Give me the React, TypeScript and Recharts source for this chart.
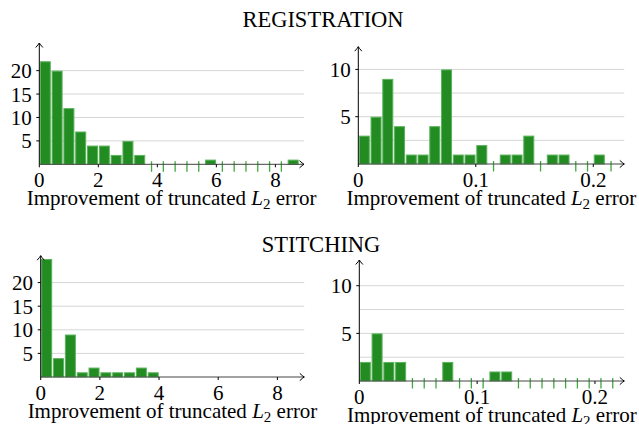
import React from 'react';
import { BarChart, Bar, XAxis, YAxis, CartesianGrid } from 'recharts';

// ---- data (histogram counts per bin) ----
const registrationL2Counts = [22, 20, 12, 7, 4, 4, 2, 5, 2, 0, 0, 0, 0, 0, 1, 0, 0, 0, 0, 0, 0, 1];
const registrationTruncCounts = [3, 5, 9, 4, 1, 1, 4, 10, 1, 1, 2, 0, 1, 1, 3, 0, 1, 1, 0, 0, 1, 0];
const stitchingL2Counts = [25, 4, 9, 1, 2, 1, 1, 1, 2, 1];
const stitchingTruncCounts = [2, 5, 2, 2, 0, 0, 0, 2, 0, 0, 0, 1, 1, 0, 0, 0, 0, 0, 0, 0, 0, 0];

const l2BinWidth = 0.4;
const truncBinWidth = 0.01;

const l2XTicks = [0, 2, 4, 6, 8];
const l2YTicks = [5, 10, 15, 20];
const truncXTicks = [0, 0.1, 0.2];
const truncYTicks = [5, 10];
const truncGridValues = [2.5, 5, 7.5, 10];

const sectionTitles = ['REGISTRATION', 'STITCHING'];
const xLabelText = 'Improvement of truncated ';
const xLabelVar = 'L';
const xLabelSub = '2';
const xLabelTail = ' error';

const FONT = "'Liberation Serif', 'Times New Roman', serif";

type Panel = {
  counts: number[];
  binWidth: number;
  xTicks: number[];
  yTicks: number[];
  gridValues: number[];
  xTop: number;
  yTop: number;
  box: [number, number, number, number];
  plot: [number, number, number, number];
};

const panels: Panel[] = [
  { counts: registrationL2Counts, binWidth: l2BinWidth, xTicks: l2XTicks, yTicks: l2YTicks, gridValues: l2YTicks,
    xTop: 8.97, yTop: 25.9, box: [0, 30, 320, 185], plot: [39.3, 43, 304, 164.3] },
  { counts: registrationTruncCounts, binWidth: truncBinWidth, xTicks: truncXTicks, yTicks: truncYTicks, gridValues: truncGridValues,
    xTop: 0.2264, yTop: 12.4, box: [320, 30, 319, 185], plot: [358.3, 46.7, 624.3, 164] },
  { counts: stitchingL2Counts, binWidth: l2BinWidth, xTicks: l2XTicks, yTicks: l2YTicks, gridValues: l2YTicks,
    xTop: 8.91, yTop: 25.7, box: [0, 245, 320, 179], plot: [40.7, 255.7, 304.3, 377] },
  { counts: stitchingTruncCounts, binWidth: truncBinWidth, xTicks: truncXTicks, yTicks: truncYTicks, gridValues: truncGridValues,
    xTop: 0.2249, yTop: 12.7, box: [320, 245, 319, 179], plot: [359.3, 260, 624.3, 381] },
];

function BinShape(props: any) {
  const { x, y, width, height, payload } = props;
  const count = payload ? payload.count : props.value;
  if (!count) {
    return (
      <line x1={x + width / 2} x2={x + width / 2} y1={y - 3} y2={y + 7.5} stroke="#3fa83f" strokeWidth={1.3} />
    );
  }
  return (
    <rect x={x + 1} y={y + 0.5} width={Math.max(0, width - 2)} height={Math.max(0, height - 0.5)}
      fill="#228b22" stroke="#5cb35c" strokeWidth={1} />
  );
}

function AxisLabel(props: any) {
  const vb = props.viewBox || {};
  const cx = vb.x + vb.width / 2;
  const by = vb.y + 40.5;
  return (
    <text x={cx} y={by} textAnchor="middle" fontFamily={FONT} fontSize={21} fill="#000">
      {xLabelText}
      <tspan fontStyle="italic">{xLabelVar}</tspan>
      <tspan fontSize={15} dy={4}>{xLabelSub}</tspan>
      <tspan dy={-4}>{xLabelTail}</tspan>
    </text>
  );
}

function Histogram({ p }: { p: Panel }) {
  const [bx, by, bw, bh] = p.box;
  const [pl, pt, pr, pb] = p.plot;
  const data = p.counts.map((count, i) => ({ x: (i + 0.5) * p.binWidth, count }));
  const tickStyle = { fill: '#000', fontSize: 21, fontFamily: FONT };
  return (
    <div style={{ position: 'absolute', left: bx, top: by, width: bw, height: bh }}>
      <BarChart
        width={bw}
        height={bh}
        data={data}
        margin={{ top: pt - by, right: bx + bw - pr, bottom: 0, left: 0 }}
        barCategoryGap={0}
        barGap={0}
      >
        <CartesianGrid
          horizontal
          vertical={false}
          yAxisId="val"
          horizontalValues={p.gridValues}
          stroke="#d6d6d6"
          strokeWidth={1}
        />
        <XAxis
          dataKey="x"
          type="number"
          domain={[0, p.xTop]}
          ticks={p.xTicks}
          interval={0}
          height={by + bh - pb}
          tickSize={3}
          tickMargin={4.8}
          tick={tickStyle}
          tickLine={{ stroke: '#000' }}
          axisLine={{ stroke: '#444', markerEnd: 'url(#pgfArrow)' }}
          tickFormatter={(v: number) => String(v)}
          label={(lp: any) => <AxisLabel {...lp} />}
        />
        <YAxis
          yAxisId="val"
          type="number"
          domain={[0, p.yTop]}
          ticks={p.yTicks}
          interval={0}
          width={pl - bx}
          tickSize={3}
          tickMargin={4.6}
          tick={tickStyle}
          tickLine={{ stroke: '#000' }}
          axisLine={{ stroke: '#000', markerStart: 'url(#pgfArrow)' }}
        />
        <Bar yAxisId="val" dataKey="count" isAnimationActive={false} shape={BinShape} />
      </BarChart>
    </div>
  );
}

export default function App() {
  return (
    <div style={{ position: 'absolute', left: 0, top: 0, width: 639, height: 424, background: '#fff', overflow: 'hidden' }}>
      <svg width={639} height={424} style={{ position: 'absolute', left: 0, top: 0 }}>
        <defs>
          <marker id="pgfArrow" viewBox="-7 -5 9 10" refX="0" refY="0" markerWidth="9" markerHeight="10"
            markerUnits="userSpaceOnUse" orient="auto-start-reverse">
            <path d="M-4.5,-3.6 Q-1.6,-0.9 0,0 Q-1.6,0.9 -4.5,3.6" fill="none" stroke="#000" strokeWidth={1} />
          </marker>
        </defs>
        <text x={323} y={26.7} textAnchor="middle" fontFamily={FONT} fontSize={22.5} fill="#000">{sectionTitles[0]}</text>
        <text x={321} y={251.7} textAnchor="middle" fontFamily={FONT} fontSize={22.5} fill="#000">{sectionTitles[1]}</text>
      </svg>
      {panels.map((p, i) => (
        <Histogram key={i} p={p} />
      ))}
    </div>
  );
}
